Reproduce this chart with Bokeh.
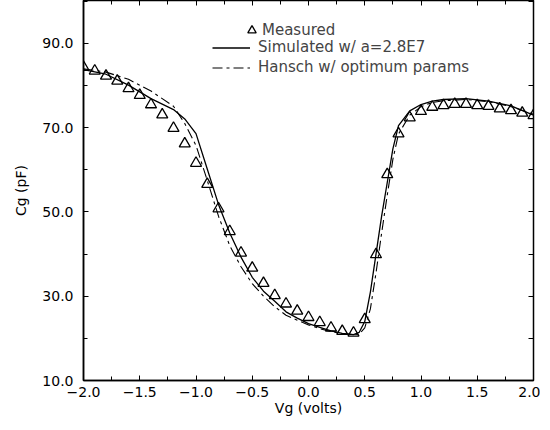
from bokeh.plotting import figure
from bokeh.models import (LinearAxis, FixedTicker, CustomJSTickFormatter, Legend,
                          LegendItem, Range1d)
from bokeh.embed import file_html
from bokeh.resources import INLINE

# ---------------- data ----------------
meas_vg = [-2.0, -1.9, -1.8, -1.7, -1.6, -1.5, -1.4, -1.3, -1.2, -1.1,
           -1.0, -0.9, -0.8, -0.7, -0.6, -0.5, -0.4, -0.3, -0.2, -0.1,
           0.0, 0.1, 0.2, 0.3, 0.4, 0.5, 0.6, 0.7, 0.8, 0.9,
           1.0, 1.1, 1.2, 1.3, 1.4, 1.5, 1.6, 1.7, 1.8, 1.9, 2.0]
meas_cg = [84.4, 83.5, 82.3, 81.1, 79.3, 77.7, 75.5, 73.1, 69.9, 66.2,
           61.6, 56.6, 50.8, 45.4, 40.3, 36.7, 33.1, 30.2, 28.2, 26.5,
           25.0, 23.8, 22.5, 21.7, 21.3, 24.5, 39.9, 58.9, 68.6, 72.4,
           73.9, 74.9, 75.3, 75.6, 75.6, 75.3, 75.1, 74.5, 74.1, 73.5, 72.9]

curve_vg = [-2.0, -1.8, -1.6, -1.4, -1.2, -1.1, -1.0, -0.9, -0.8, -0.7,
            -0.6, -0.5, -0.4, -0.3, -0.2, -0.1, 0.0, 0.1, 0.2, 0.3,
            0.4, 0.45, 0.5, 0.55, 0.6, 0.65, 0.7, 0.75, 0.8, 0.9,
            1.0, 1.1, 1.2, 1.4, 1.6, 1.8, 2.0]
sim_cg = [83.8, 82.7, 80.1, 76.9, 74.3, 72.1, 68.6, 60.2, 51.8, 45.0,
          39.3, 34.5, 31.2, 28.8, 26.3, 24.8, 23.5, 22.6, 21.8, 21.2,
          20.9, 21.4, 24.0, 31.0, 40.0, 49.0, 57.0, 65.0, 70.5, 74.0,
          75.5, 76.3, 76.7, 76.9, 76.3, 75.2, 73.0]
hansch_cg = [84.0, 83.2, 81.5, 78.7, 75.1, 71.0, 65.8, 57.5, 49.0, 42.0,
             37.0, 33.0, 30.0, 27.5, 25.5, 24.3, 23.2, 22.3, 21.6, 21.1,
             20.9, 21.0, 22.5, 27.0, 35.5, 45.0, 54.0, 62.5, 68.5, 73.0,
             75.0, 76.0, 76.4, 76.7, 76.2, 75.0, 73.2]

x_ticks = [-2.0, -1.5, -1.0, -0.5, 0.0, 0.5, 1.0, 1.5, 2.0]
x_tick_labels = ["\u22122.0", "\u22121.5", "\u22121.0", "\u22120.5", "0.0",
                 "0.5", "1.0", "1.5", "2.0"]
x_minor = [-1.75, -1.25, -0.75, -0.25, 0.25, 0.75, 1.25, 1.75]
y_ticks = [10, 30, 50, 70, 90]
y_tick_labels = ["10.0", "30.0", "50.0", "70.0", "90.0"]
y_minor = [20, 40, 60, 80, 100]
y_right_ticks = [10, 20, 30, 40, 50, 60, 70, 80, 90, 100]

FONT = "DejaVu Sans"

p = figure(width=540, height=420, output_backend="svg", toolbar_location=None,
           x_range=Range1d(-2.0, 2.0), y_range=Range1d(10.0, 100.2),
           min_border_left=83, min_border_right=7, min_border_top=0,
           min_border_bottom=40,
           x_axis_label="Vg (volts)", y_axis_label="Cg (pF)")
p.grid.visible = False
p.outline_line_color = "black"
p.outline_line_width = 1.5
p.background_fill_color = "white"
p.border_fill_color = "white"

fmt_code = """
const i = t.findIndex(v => Math.abs(v - tick) < 1e-9);
return i >= 0 ? l[i] : '';
"""

xa = p.xaxis[0]
xa.ticker = FixedTicker(ticks=x_ticks, minor_ticks=x_minor)
xa.formatter = CustomJSTickFormatter(args=dict(t=x_ticks, l=x_tick_labels), code=fmt_code)
ya = p.yaxis[0]
ya.ticker = FixedTicker(ticks=y_ticks, minor_ticks=y_minor)
ya.formatter = CustomJSTickFormatter(args=dict(t=y_ticks, l=y_tick_labels), code=fmt_code)

for ax in (xa, ya):
    ax.axis_line_color = "black"
    ax.axis_line_width = 1.5
    ax.major_tick_in = 5
    ax.major_tick_out = 0
    ax.minor_tick_in = 4
    ax.minor_tick_out = 0
    ax.major_tick_line_color = "black"
    ax.minor_tick_line_color = "black"
    ax.major_label_text_font = FONT
    ax.major_label_text_font_size = "14px"
    ax.major_label_text_color = "black"
    ax.axis_label_text_font = FONT
    ax.axis_label_text_font_size = "14px"
    ax.axis_label_text_font_style = "normal"
    ax.axis_label_text_color = "black"
xa.major_label_standoff = 6
xa.axis_label_standoff = 0
ya.major_label_standoff = 10
ya.axis_label_standoff = 10

empty = CustomJSTickFormatter(code="return '';")
top = LinearAxis(ticker=FixedTicker(ticks=x_ticks, minor_ticks=x_minor), formatter=empty,
                 major_label_text_font_size="0px", major_label_standoff=0,
                 axis_line_color=None, major_tick_in=5, major_tick_out=0,
                 minor_tick_in=4, minor_tick_out=0)
right = LinearAxis(ticker=FixedTicker(ticks=y_right_ticks), formatter=empty,
                   major_label_text_font_size="0px", major_label_standoff=0,
                   axis_line_color=None, major_tick_in=5, major_tick_out=0,
                   minor_tick_in=0, minor_tick_out=0)
p.add_layout(top, "above")
p.add_layout(right, "right")

r_sim = p.line(curve_vg, sim_cg, line_color="black", line_width=1.3)
r_han = p.line(curve_vg, hansch_cg, line_color="black", line_width=1.1,
               line_dash="10 4 3 4")
r_meas = p.scatter(meas_vg, meas_cg, marker="triangle", size=11,
                   fill_color=None, line_color="black", line_width=1.3)

legA = Legend(items=[LegendItem(label="Measured", renderers=[r_meas])],
              location=(158, 337), glyph_width=21, glyph_height=26,
              label_height=26, label_standoff=-3, padding=0, margin=0, spacing=0,
              border_line_color=None, background_fill_alpha=0,
              label_text_font=FONT, label_text_font_size="15px")
legB = Legend(items=[LegendItem(label="Simulated w/ a=2.8E7", renderers=[r_sim]),
                     LegendItem(label="Hansch w/ optimum params", renderers=[r_han])],
              location=(129, 304), glyph_width=38, glyph_height=17,
              label_height=17, label_standoff=8, padding=0, margin=0, spacing=2,
              border_line_color=None, background_fill_alpha=0,
              label_text_font=FONT, label_text_font_size="15px")
p.add_layout(legA)
p.add_layout(legB)

open("out.html", "w").write(file_html(p, INLINE))
